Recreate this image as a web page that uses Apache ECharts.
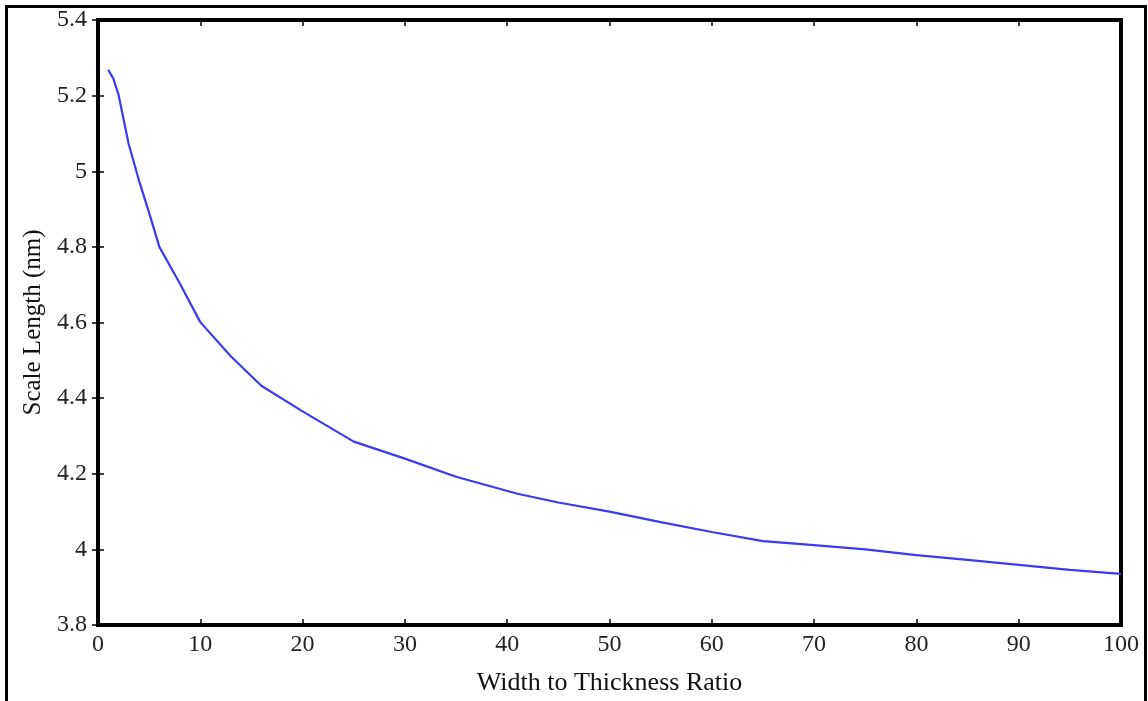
<!DOCTYPE html>
<html>
<head>
<meta charset="utf-8">
<script src="https://cdn.jsdelivr.net/npm/echarts@6/dist/echarts.min.js"></script>
<style>
  html, body { margin: 0; padding: 0; background: #ffffff; }
  #chart { position: absolute; left: 0; top: 0; width: 1148px; height: 701px; }
  #frame { position: absolute; left: 5px; top: 5px; width: 1136px; height: 720px;
           border: 3px solid #000; border-bottom: none; pointer-events: none; }
</style>
</head>
<body>
<div id="chart"></div>
<div id="frame"></div>
<script>
// Data
const ratio = [1, 1.5, 2, 3, 4, 5, 6, 8, 10, 13, 16, 20, 25, 30, 35, 41, 45, 50, 55, 60, 65, 70, 75, 80, 85, 90, 95, 100];
const scaleLength = [5.268, 5.245, 5.203, 5.072, 4.976, 4.89, 4.80, 4.703, 4.601, 4.51, 4.432, 4.365, 4.285, 4.24, 4.192, 4.147, 4.124, 4.100, 4.072, 4.046, 4.022, 4.011, 4.000, 3.985, 3.972, 3.959, 3.946, 3.935];
const xTicks = { min: 0, max: 100, interval: 10 };
const yTicks = { min: 3.8, max: 5.4, interval: 0.2 };
const xTitle = 'Width to Thickness Ratio';
const yTitle = 'Scale Length (nm)';

const serif = '"Liberation Serif", "DejaVu Serif", serif';
const chart = echarts.init(document.getElementById('chart'));

const tickStyle = { show: true, inside: true, length: 6, lineStyle: { color: '#000', width: 1.5 } };
const fmtY = v => String(Math.round(v * 10) / 10);

chart.setOption({
  backgroundColor: '#ffffff',
  animation: false,
  grid: {
    left: 98, right: 27, top: 20, bottom: 74,
    show: true, borderColor: '#000', borderWidth: 4, backgroundColor: 'transparent'
  },
  xAxis: [
    {
      type: 'value', position: 'bottom',
      min: xTicks.min, max: xTicks.max, interval: xTicks.interval,
      name: xTitle, nameLocation: 'middle', nameGap: 45,
      nameTextStyle: { fontFamily: serif, fontSize: 26, color: '#111' },
      axisLine: { show: false },
      axisTick: tickStyle,
      axisLabel: { fontFamily: serif, fontSize: 24, color: '#222', margin: 8 },
      splitLine: { show: false }
    },
    {
      type: 'value', position: 'top',
      min: xTicks.min, max: xTicks.max, interval: xTicks.interval,
      axisLine: { show: false }, axisTick: tickStyle,
      axisLabel: { show: false }, splitLine: { show: false }
    }
  ],
  yAxis: [
    {
      type: 'value', position: 'left',
      min: yTicks.min, max: yTicks.max, interval: yTicks.interval,
      name: yTitle, nameLocation: 'middle', nameGap: 52, nameRotate: 90,
      nameTextStyle: { fontFamily: serif, fontSize: 25, color: '#111' },
      axisLine: { show: false },
      axisTick: tickStyle,
      axisLabel: { fontFamily: serif, fontSize: 24, color: '#222', margin: 11, formatter: fmtY },
      splitLine: { show: false }
    },
    {
      type: 'value', position: 'right',
      min: yTicks.min, max: yTicks.max, interval: yTicks.interval,
      axisLine: { show: false }, axisTick: tickStyle,
      axisLabel: { show: false }, splitLine: { show: false }
    }
  ],
  series: [
    {
      type: 'line',
      xAxisIndex: 0, yAxisIndex: 0,
      data: ratio.map((x, i) => [x, scaleLength[i]]),
      showSymbol: false,
      smooth: false,
      lineStyle: { color: '#3b3bf2', width: 2.2 },
      z: 3
    }
  ]
});
</script>
</body>
</html>
